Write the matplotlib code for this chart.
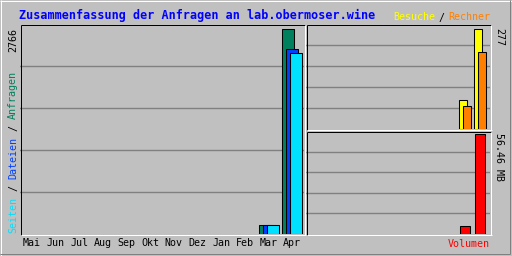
import numpy as np
import matplotlib
matplotlib.use('Agg')
import matplotlib.pyplot as plt

# Daten (Monatsübersicht)
monate = ['Mai', 'Jun', 'Jul', 'Aug', 'Sep', 'Okt', 'Nov', 'Dez', 'Jan', 'Feb', 'Mar', 'Apr']
anfragen = np.array([0, 0, 0, 0, 0, 0, 0, 0, 0, 0, 121, 2766])
dateien = np.array([0, 0, 0, 0, 0, 0, 0, 0, 0, 0, 118, 2496])
seiten = np.array([0, 0, 0, 0, 0, 0, 0, 0, 0, 0, 115, 2442])
besuche = np.array([0, 0, 0, 0, 0, 0, 0, 0, 0, 0, 80, 277])
rechner = np.array([0, 0, 0, 0, 0, 0, 0, 0, 0, 0, 64, 213])
volumen_mb = np.array([0, 0, 0, 0, 0, 0, 0, 0, 0, 0, 4.5, 56.46])

titel = 'Zusammenfassung der Anfragen an lab.obermoser.wine'
max_anfragen = '2766'
max_besuche = '277'
max_volumen = '56.46 MB'

GRAU = '#C0C0C0'
DKGRAU = '#808080'
GRUEN = '#00805C'
BLAU = '#0040FF'
CYAN = '#00E0FF'
GELB = '#FFFF00'
ORANGE = '#FF8000'
ROT = '#FF0000'
MONO = 'DejaVu Sans Mono'
FS = 7.2

W, H = 512, 256
fig = plt.figure(figsize=(W / 100, H / 100), dpi=100, facecolor=GRAU)


def panel(x0, y0, x1, y1):
    # Achsen in Pixelkoordinaten (y nach unten)
    ax = fig.add_axes([x0 / W, 1 - y1 / H, (x1 - x0) / W, (y1 - y0) / H])
    ax.set_facecolor(GRAU)
    for s in ax.spines.values():
        s.set_visible(False)
    ax.tick_params(length=0, labelleft=False, labelbottom=False)
    ax.set_yticks([])
    return ax


def gitter(ax, ytop):
    for k in range(1, 5):
        ax.axhline(ytop * k / 5, color=DKGRAU, lw=1.0, zorder=0)


x = np.arange(12)

# Hauptfeld: Anfragen / Dateien / Seiten
ax = panel(20, 24, 304, 234)
ytop = anfragen.max() * 210 / 205
ax.set_xlim(0, 12)
ax.set_ylim(0, ytop)
gitter(ax, ytop)
bw = 12 / 23.67
for werte, off, farbe in [(anfragen, 0.08, GRUEN), (dateien, 0.25, BLAU), (seiten, 0.42, CYAN)]:
    m = werte > 0
    ax.bar(x[m] + off, werte[m], width=bw, align='edge', color=farbe,
           edgecolor='black', linewidth=0.75, zorder=2)
ax.set_xticks(x + 0.5)
ax.set_xticklabels(monate, fontfamily=MONO, fontsize=FS)
ax.tick_params(axis='x', labelbottom=True, pad=3)

# Besuche / Rechner
ax2 = panel(306, 24, 490, 129)
ytop2 = besuche.max() * 105 / 100
ax2.set_xlim(11 - (474 - 306) / 15, 11 + (490 - 474) / 15)
ax2.set_ylim(0, ytop2)
ax2.set_xticks([])
gitter(ax2, ytop2)
for werte, off, farbe in [(besuche, 0.0, GELB), (rechner, 4 / 15, ORANGE)]:
    m = werte > 0
    ax2.bar(x[m] + off, werte[m], width=8 / 15, align='edge', color=farbe,
            edgecolor='black', linewidth=0.75, zorder=2)

# Volumen
ax3 = panel(306, 131, 490, 234)
ytop3 = volumen_mb.max() * 103 / 100
ax3.set_xlim(11 - (474 - 306) / 15, 11 + (490 - 474) / 15)
ax3.set_ylim(0, ytop3)
ax3.set_xticks([])
gitter(ax3, ytop3)
m = volumen_mb > 0
ax3.bar(x[m] + 1 / 15, volumen_mb[m], width=10 / 15, align='edge', color=ROT,
        edgecolor='black', linewidth=0.75, zorder=2)

# Überlagerung für Rahmen und Beschriftungen
ov = fig.add_axes([0, 0, 1, 1], zorder=10)
ov.set_xlim(0, W)
ov.set_ylim(H, 0)
ov.axis('off')


def linie(xs, ys, farbe):
    ov.plot(xs, ys, color=farbe, lw=0.72, solid_capstyle='butt')


# Außenrahmen
linie([0, W], [0.5, 0.5], 'white')
linie([0.5, 0.5], [0, H], 'white')
linie([509.5, 509.5], [0, 254], DKGRAU)
linie([0, 510], [253.5, 253.5], DKGRAU)

# Feldrahmen
for x0, y0, x1, y1 in [(20, 24, 304, 234), (306, 24, 490, 129), (306, 131, 490, 234)]:
    linie([x0 + 0.5, x1 + 0.5], [y0 + 0.5, y0 + 0.5], 'black')
    linie([x0 + 0.5, x0 + 0.5], [y0 + 0.5, y1 + 0.5], 'black')
    linie([x0 + 0.5, x1 + 1.5], [y1 + 0.5, y1 + 0.5], 'white')
    linie([x1 + 0.5, x1 + 0.5], [y0 + 0.5, y1 + 0.5], 'white')

ov.text(19, 15, titel, color='#0000FF', fontfamily=MONO, fontweight='bold',
        fontsize=8.45, ha='left', va='center')

ov.text(435, 17.5, 'Besuche', color=GELB, fontfamily=MONO, fontsize=FS, ha='right', va='center')
ov.text(441.5, 17.5, '/', color='black', fontfamily=MONO, fontsize=FS, ha='center', va='center')
ov.text(490, 17.5, 'Rechner', color=ORANGE, fontfamily=MONO, fontsize=FS, ha='right', va='center')

# linke senkrechte Legende
for text, yc, farbe in [('Seiten', 215, CYAN), ('/', 188, 'black'), ('Dateien', 158, BLAU),
                        ('/', 128, 'black'), ('Anfragen', 95, GRUEN)]:
    ov.text(13, yc, text, color=farbe, fontfamily=MONO, fontsize=FS, rotation=90,
            ha='center', va='center')
ov.text(13, 28, max_anfragen, color='black', fontfamily=MONO, fontsize=FS, rotation=90,
        ha='center', va='top')

ov.text(499, 28, max_besuche, color='black', fontfamily=MONO, fontsize=FS, rotation=-90,
        ha='center', va='top')
ov.text(499, 133, max_volumen, color='black', fontfamily=MONO, fontsize=FS, rotation=-90,
        ha='center', va='top')
ov.text(490, 244, 'Volumen', color=ROT, fontfamily=MONO, fontsize=FS, ha='right', va='center')

fig.savefig('out.png', dpi=100, facecolor=GRAU)
